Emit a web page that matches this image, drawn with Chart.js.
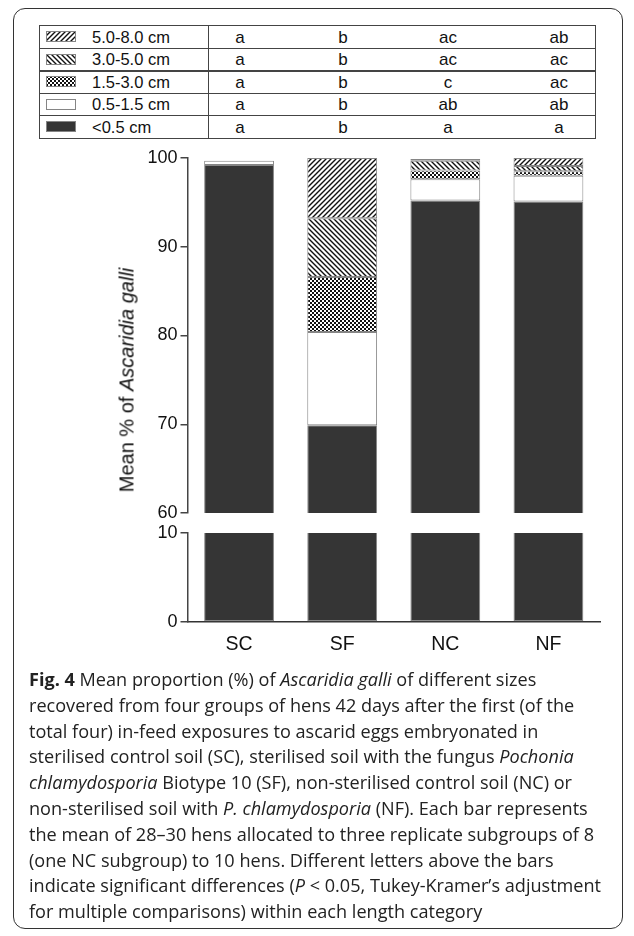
<!DOCTYPE html>
<html><head><meta charset="utf-8">
<script src="https://cdn.jsdelivr.net/npm/chart.js@4"></script>
<style>
html,body{margin:0;padding:0;background:#fff;}
body{width:634px;height:936px;position:relative;overflow:hidden;font-family:"Liberation Sans",Arial,sans-serif;color:#111;}
#frame{position:absolute;left:13px;top:8px;width:610px;height:921px;border:1.5px solid #333;border-radius:12px;box-sizing:border-box;}
#tbl{position:absolute;left:39px;top:25px;width:557px;height:114px;border:1.5px solid #444;box-sizing:border-box;}
.row{position:absolute;left:0;width:100%;box-sizing:border-box;}
.rowline{position:absolute;left:0;width:100%;height:0;border-top:1.5px solid #444;}
#divider{position:absolute;left:168px;top:0;height:100%;border-left:1.5px solid #444;}
.sw{position:absolute;left:6px;}
.lab{position:absolute;left:52px;font-size:16.5px;line-height:20px;}
.let{position:absolute;font-size:17px;line-height:20px;transform:translateX(-50%);}
canvas{position:absolute;left:0;}
#ytitle{position:absolute;left:127px;top:380px;font-size:20px;white-space:nowrap;transform:translate(-50%,-50%) rotate(-90deg);}
#caption{position:absolute;left:29px;top:667px;font-family:"Open Sans",sans-serif;font-size:18.1px;line-height:25.8px;white-space:nowrap;color:#222;}
</style></head>
<body>
<div id="frame"></div>
<div id="tbl"><div id="divider"></div></div>
<canvas id="c1" width="634" height="390" style="top:140px"></canvas>
<canvas id="c2" width="634" height="160" style="top:518px"></canvas>
<div id="ytitle">Mean % of <i>Ascaridia galli</i></div>
<div id="caption"><b>Fig. 4</b> Mean proportion (%) of <i>Ascaridia galli</i> of different sizes<br>recovered from four groups of hens 42 days after the first (of the<br>total four) in-feed exposures to ascarid eggs embryonated in<br>sterilised control soil (SC), sterilised soil with the fungus <i>Pochonia</i><br><i>chlamydosporia</i> Biotype 10 (SF), non-sterilised control soil (NC) or<br>non-sterilised soil with <i>P. chlamydosporia</i> (NF). Each bar represents<br>the mean of 28–30 hens allocated to three replicate subgroups of 8<br>(one NC subgroup) to 10 hens. Different letters above the bars<br>indicate significant differences (<i>P</i> &lt; 0.05, Tukey-Kramer’s adjustment<br>for multiple comparisons) within each length category</div>
<script>
// ---- data ----
const categories = ['SC', 'SF', 'NC', 'NF'];
const sizeClasses = ['<0.5 cm', '0.5-1.5 cm', '1.5-3.0 cm', '3.0-5.0 cm', '5.0-8.0 cm'];
const valLt05   = [99.2, 69.9, 95.2, 95.1];
const val05_15  = [0.5, 10.5, 2.4, 2.9];
const val15_30  = [null, 6.2, 1.0, 0.5];
const val30_50  = [null, 6.6, 1.1, 0.6];
const val50_80  = [null, 6.8, 0.2, 0.9];
const lettersLt05  = ['a', 'b', 'a', 'a'];
const letters05_15 = ['a', 'b', 'ab', 'ab'];
const letters15_30 = ['a', 'b', 'c', 'ac'];
const letters30_50 = ['a', 'b', 'ac', 'ac'];
const letters50_80 = ['a', 'b', 'ac', 'ab'];
const upperRange = [60, 100];
const lowerRange = [0, 10];
const tickStep = 10;

// ---- patterns ----
function hatch(dir) {
  const s = 5, c = document.createElement('canvas');
  c.width = c.height = s;
  const x = c.getContext('2d');
  x.fillStyle = '#fff'; x.fillRect(0, 0, s, s);
  x.strokeStyle = '#111'; x.lineWidth = 1.4; x.beginPath();
  if (dir > 0) {
    x.moveTo(0, s); x.lineTo(s, 0);
    x.moveTo(-1, 1); x.lineTo(1, -1);
    x.moveTo(s - 1, s + 1); x.lineTo(s + 1, s - 1);
  } else {
    x.moveTo(0, 0); x.lineTo(s, s);
    x.moveTo(s - 1, -1); x.lineTo(s + 1, 1);
    x.moveTo(-1, s - 1); x.lineTo(1, s + 1);
  }
  x.stroke();
  return x.createPattern(c, 'repeat');
}
function checker() {
  const c = document.createElement('canvas'); c.width = c.height = 4;
  const x = c.getContext('2d');
  x.fillStyle = '#fff'; x.fillRect(0, 0, 4, 4);
  x.fillStyle = '#111'; x.fillRect(0, 0, 2, 2); x.fillRect(2, 2, 2, 2);
  return x.createPattern(c, 'repeat');
}
const DARK = '#353535', EDGE = '#858585';
const fills = [DARK, '#ffffff', checker(), hatch(-1), hatch(1)];
const series = [valLt05, val05_15, val15_30, val30_50, val50_80];
const letterSets = [lettersLt05, letters05_15, letters15_30, letters30_50, letters50_80];

// ---- legend table ----
const tbl = document.getElementById('tbl');
const rowH = 22.6;
const letterX = [200, 303, 408, 519];
for (let r = 0; r < 5; r++) {
  const k = 4 - r; // top row = largest class
  const top = r * rowH;
  if (r > 0) {
    const ln = document.createElement('div'); ln.className = 'rowline'; ln.style.top = (top - 1) + 'px';
    if (r === 2) ln.style.borderTopWidth = '2.2px';
    tbl.appendChild(ln);
  }
  const sw = document.createElement('canvas'); sw.className = 'sw'; sw.width = 30; sw.height = 11;
  sw.style.top = (top + 5) + 'px';
  const sx = sw.getContext('2d'); sx.fillStyle = fills[k]; sx.fillRect(0, 0, 30, 11);
  sx.strokeStyle = EDGE; sx.lineWidth = 1; sx.strokeRect(0.5, 0.5, 29, 10);
  tbl.appendChild(sw);
  const lb = document.createElement('div'); lb.className = 'lab'; lb.style.top = (top + 0.5) + 'px';
  lb.textContent = sizeClasses[k]; tbl.appendChild(lb);
  letterSets[k].forEach((t, i) => {
    const d = document.createElement('div'); d.className = 'let'; d.style.left = letterX[i] + 'px';
    d.style.top = (top + 1.5) + 'px'; d.textContent = t; tbl.appendChild(d);
  });
}

// ---- charts ----
const AXIS_W = 187.5, RIGHT_PAD = 34;
const tickFont = {family: '"Liberation Sans", Arial, sans-serif', size: 18};
const catFont = {family: '"Liberation Sans", Arial, sans-serif', size: 19.5};
function yAxis(range) {
  return {
    min: range[0], max: range[1], stacked: true,
    afterFit: s => { s.width = AXIS_W; },
    ticks: {stepSize: tickStep, color: '#111', font: tickFont, padding: 3},
    grid: {display: true, drawOnChartArea: false, drawTicks: true, tickLength: 7, color: '#444', lineWidth: 1.5},
    border: {display: true, color: '#444', width: 1.5}
  };
}
function datasets(idxs, clip) {
  return idxs.map(k => ({
    label: sizeClasses[k], data: series[k], backgroundColor: fills[k],
    borderColor: EDGE, borderWidth: 1, borderSkipped: false,
    barPercentage: 0.677, categoryPercentage: 1.0, clip: clip
  }));
}
new Chart(document.getElementById('c1'), {
  type: 'bar',
  data: {labels: categories, datasets: datasets([0, 1, 2, 3, 4], {left: 5, right: 5, top: 5, bottom: 0})},
  options: {
    responsive: false, animation: false, devicePixelRatio: 1,
    layout: {padding: {top: 18, bottom: 17, left: 0, right: RIGHT_PAD}},
    plugins: {legend: {display: false}, tooltip: {enabled: false}},
    scales: {
      x: {display: false, stacked: true},
      y: yAxis(upperRange)
    }
  }
});
new Chart(document.getElementById('c2'), {
  type: 'bar',
  data: {labels: categories, datasets: datasets([0], {left: 5, right: 5, top: 0, bottom: 5})},
  options: {
    responsive: false, animation: false, devicePixelRatio: 1,
    layout: {padding: {top: 15, bottom: 0, left: 0, right: RIGHT_PAD}},
    plugins: {legend: {display: false}, tooltip: {enabled: false}},
    scales: {
      x: {
        stacked: true,
        afterFit: s => { s.height = 56; },
        ticks: {color: '#111', font: catFont, padding: 11},
        grid: {display: true, drawOnChartArea: false, drawTicks: false},
        border: {display: true, color: '#333', width: 1.5}
      },
      y: yAxis(lowerRange)
    }
  }
});
</script>
</body></html>
